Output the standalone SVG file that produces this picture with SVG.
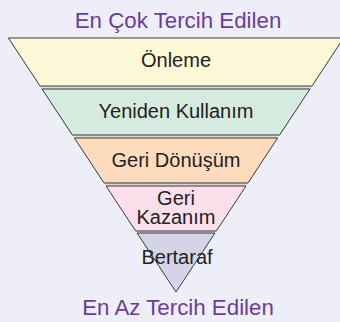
<svg xmlns="http://www.w3.org/2000/svg" width="340" height="322" viewBox="0 0 340 322">
<style>
.band{stroke:#3a3a3a;stroke-width:1;stroke-linejoin:miter}
.gap{fill:#d9d9d9;stroke:none}
.lbl{font-family:"Liberation Sans",Arial,sans-serif;font-size:20px;fill:#222;text-anchor:middle}
.ttl{font-family:"Liberation Sans",Arial,sans-serif;font-size:22.3px;fill:#6a3d9a;text-anchor:middle}
</style>
<rect width="340" height="322" fill="#eeeef8"/>
<text class="ttl" x="178" y="28">En Çok Tercih Edilen</text>
<g id="connectors">
<polygon class="gap" points="40,86 312,86 310,89 42,89"/>
<polygon class="gap" points="72.4,135 279.6,135 277.6,138 74.4,138"/>
<polygon class="gap" points="104,183 248,183 246,186 106,186"/>
<polygon class="gap" points="135.7,231 216.3,231 215,233 137,233"/>
</g>
<g id="onleme">
<polygon class="band" fill="#fdf9d8" points="8.4,38 343.6,38 312,86 40,86"/>
<text class="lbl" x="176" y="67">Önleme</text>
</g>
<g id="yeniden-kullanim">
<polygon class="band" fill="#d6ebdf" points="42,89 310,89 279.6,135 72.4,135"/>
<text class="lbl" x="176" y="118">Yeniden Kullanım</text>
</g>
<g id="geri-donusum">
<polygon class="band" fill="#fcdcbc" points="74.4,138 277.6,138 248,183 104,183"/>
<text class="lbl" x="176" y="167">Geri Dönüşüm</text>
</g>
<g id="geri-kazanim">
<polygon class="band" fill="#fbdfea" points="106,186 246,186 216.3,231 135.7,231"/>
<text class="lbl" x="176" y="205">Geri</text>
<text class="lbl" x="176" y="224">Kazanım</text>
</g>
<g id="bertaraf">
<polygon class="band" fill="#d4d3e8" points="137,233 215,233 176,292"/>
<text class="lbl" x="177" y="264">Bertaraf</text>
</g>
<text class="ttl" x="178" y="315">En Az Tercih Edilen</text>
</svg>
